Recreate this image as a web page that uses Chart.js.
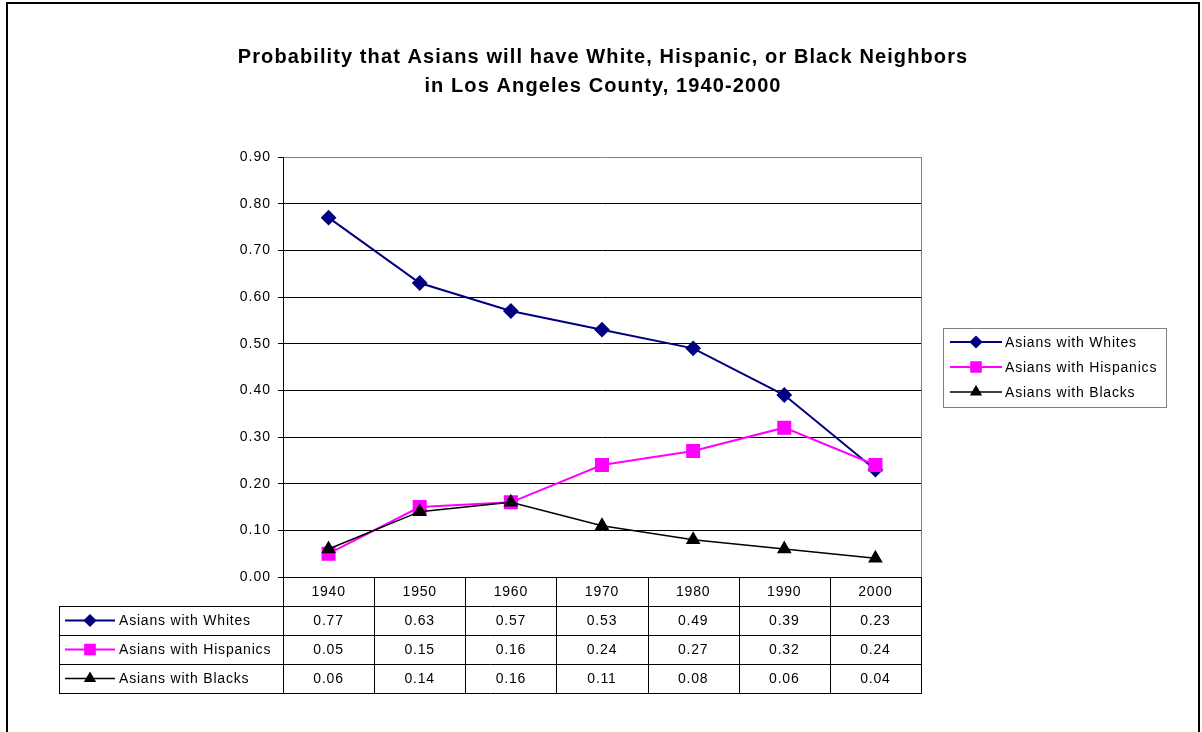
<!DOCTYPE html>
<html>
<head>
<meta charset="utf-8">
<script src="https://cdn.jsdelivr.net/npm/chart.js@4"></script>
<style>
  html, body { margin: 0; padding: 0; background: #fff; }
  #wrap { width: 1202px; height: 732px; position: relative; }
</style>
</head>
<body>
<div id="wrap"><canvas id="neighborChart" width="1202" height="732"></canvas></div>
<script>
const years = ['1940', '1950', '1960', '1970', '1980', '1990', '2000'];
const withWhites = [0.77, 0.63, 0.57, 0.53, 0.49, 0.39, 0.23];
const withHispanics = [0.05, 0.15, 0.16, 0.24, 0.27, 0.32, 0.24];
const withBlacks = [0.06, 0.14, 0.16, 0.11, 0.08, 0.06, 0.04];
const seriesNames = ['Asians with Whites', 'Asians with Hispanics', 'Asians with Blacks'];
const titleLines = ['Probability that Asians will have White, Hispanic, or Black Neighbors',
                    'in Los Angeles County, 1940-2000'];

const FONT = '"Liberation Sans", Arial, sans-serif';

// Title, outer frame, legend and the data table under the plot
const extrasPlugin = {
    id: 'extras',
    beforeDraw(chart) {
        chart.ctx.letterSpacing = '1px';
    },
    afterDraw(chart) {
        const ctx = chart.ctx;
        const area = chart.chartArea;
        const x = chart.scales.x;
        const ds = chart.data.datasets;
        ctx.save();

        // outer frame
        ctx.strokeStyle = '#000';
        ctx.lineWidth = 2;
        ctx.strokeRect(7, 3, 1192, 740);

        // plot border right in grey
        ctx.strokeStyle = '#808080';
        ctx.lineWidth = 1;
        ctx.beginPath();
        ctx.moveTo(area.right + 0.5, area.top);
        ctx.lineTo(area.right + 0.5, area.bottom);
        ctx.stroke();

        // title
        ctx.fillStyle = '#000';
        ctx.font = 'bold 20px ' + FONT;
        ctx.letterSpacing = '1.1px';
        ctx.textAlign = 'center';
        ctx.textBaseline = 'middle';
        ctx.fillText(titleLines[0], 603, 57);
        ctx.fillText(titleLines[1], 603, 86);

        // legend
        ctx.font = '14px ' + FONT;
        ctx.letterSpacing = '0.8px';
        ctx.textAlign = 'left';
        ctx.strokeStyle = '#808080';
        ctx.strokeRect(943.5, 328.5, 223, 79);
        ds.forEach((d, i) => {
            const y = 342 + i * 25;
            drawKey(ctx, d, 950, 1002, y);
            ctx.fillStyle = '#000';
            ctx.fillText(d.label, 1005, y + 1);
        });

        // data table
        const half = (x.getPixelForValue(1) - x.getPixelForValue(0)) / 2;
        const rows = [577, 606, 635, 664, 693];
        const tLeft = 59;
        ctx.strokeStyle = '#000';
        ctx.lineWidth = 1;
        ctx.beginPath();
        for (let r = 1; r < rows.length; r++) {
            ctx.moveTo(tLeft, rows[r] + 0.5);
            ctx.lineTo(area.right + 1, rows[r] + 0.5);
        }
        ctx.moveTo(tLeft + 0.5, rows[1]);
        ctx.lineTo(tLeft + 0.5, rows[4]);
        for (let c = 0; c <= years.length; c++) {
            const px = Math.round(x.getPixelForValue(0) - half + c * half * 2) + 0.5;
            ctx.moveTo(px, area.bottom);
            ctx.lineTo(px, rows[4]);
        }
        ctx.stroke();

        ctx.textAlign = 'center';
        ctx.fillStyle = '#000';
        ctx.font = '14px ' + FONT;
        years.forEach((yr, c) => {
            ctx.fillText(yr, x.getPixelForValue(c), (rows[0] + rows[1]) / 2 + 1);
        });
        ds.forEach((d, i) => {
            const cy = (rows[i + 1] + rows[i + 2]) / 2 + 1;
            d.data.forEach((v, c) => {
                ctx.fillText(v.toFixed(2), x.getPixelForValue(c), cy);
            });
            drawKey(ctx, d, 65, 115, cy - 1);
            ctx.textAlign = 'left';
            ctx.fillText(d.label, 119, cy);
            ctx.textAlign = 'center';
        });

        ctx.restore();
    }
};

function drawKey(ctx, d, x1, x2, y) {
    ctx.save();
    ctx.strokeStyle = d.borderColor;
    ctx.lineWidth = d.borderWidth;
    ctx.beginPath();
    ctx.moveTo(x1, y);
    ctx.lineTo(x2, y);
    ctx.stroke();
    Chart.helpers.drawPoint(ctx, {
        pointStyle: d.pointStyle,
        radius: d.pointRadius * 0.8,
        rotation: 0,
        borderWidth: 1
    }, (x1 + x2) / 2, y);
    ctx.fillStyle = d.pointBackgroundColor;
    ctx.fill();
    ctx.restore();
}

new Chart(document.getElementById('neighborChart'), {
    type: 'line',
    data: {
        labels: years,
        datasets: [{
            label: seriesNames[0],
            data: withWhites,
            borderColor: '#000080',
            backgroundColor: '#000080',
            pointBackgroundColor: '#000080',
            pointBorderColor: '#000080',
            borderWidth: 2,
            pointStyle: 'rectRot',
            pointRadius: 6.5,
            order: 3
        }, {
            label: seriesNames[1],
            data: withHispanics,
            borderColor: '#ff00ff',
            backgroundColor: '#ff00ff',
            pointBackgroundColor: '#ff00ff',
            pointBorderColor: '#ff00ff',
            borderWidth: 2,
            pointStyle: 'rect',
            pointRadius: 8.5,
            order: 2
        }, {
            label: seriesNames[2],
            data: withBlacks,
            borderColor: '#000000',
            backgroundColor: '#000000',
            pointBackgroundColor: '#000000',
            pointBorderColor: '#000000',
            borderWidth: 1.5,
            pointStyle: 'triangle',
            pointRadius: 7,
            order: 1
        }]
    },
    options: {
        responsive: false,
        animation: false,
        layout: { padding: { left: 0, top: 157, right: 281, bottom: 155 } },
        elements: { line: { tension: 0 } },
        plugins: { legend: { display: false }, tooltip: { enabled: false }, title: { display: false } },
        scales: {
            x: {
                offset: true,
                ticks: { display: false },
                grid: { display: false, drawTicks: false },
                border: { display: true, color: '#000', width: 1 },
                afterFit: s => { s.height = 0; }
            },
            y: {
                min: 0,
                max: 0.9,
                ticks: {
                    stepSize: 0.1,
                    color: '#000',
                    padding: 7,
                    font: { family: FONT, size: 14 },
                    callback: v => v.toFixed(2)
                },
                grid: {
                    color: c => (c.tick && c.tick.value >= 0.89 ? '#808080' : '#000'),
                    tickColor: '#000',
                    tickLength: 5,
                    lineWidth: 1
                },
                border: { display: true, color: '#000', width: 1 },
                afterFit: s => { s.width = 283; }
            }
        }
    },
    plugins: [extrasPlugin]
});
</script>
</body>
</html>
